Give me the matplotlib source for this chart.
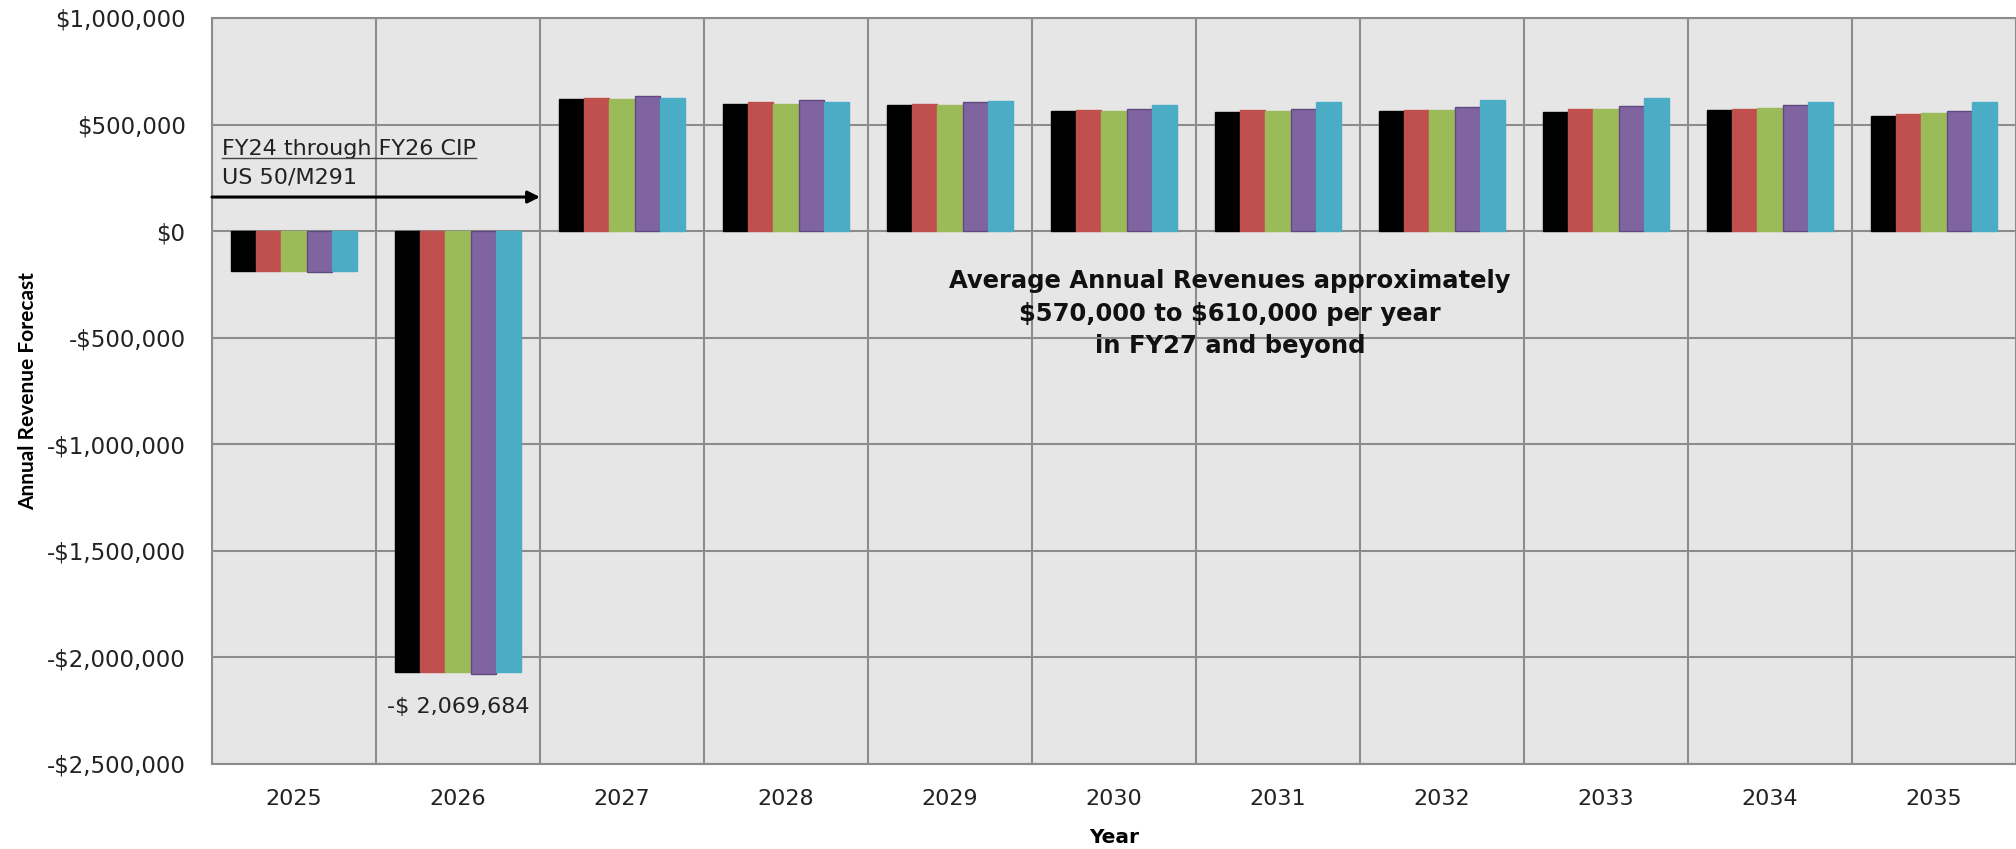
import matplotlib
matplotlib.use("Agg")
import matplotlib.pyplot as plt
import numpy as np
from matplotlib.ticker import FuncFormatter, FixedLocator
from matplotlib.lines import Line2D

plt.rcParams['font.family'] = ['DejaVu Sans']

years = ["2025", "2026", "2027", "2028", "2029", "2030", "2031", "2032", "2033", "2034", "2035"]
series_1 = [-189000, -2069684, 621000, 596000, 590000, 563000, 558000, 563000, 560000, 567000, 539000]
series_2 = [-189000, -2069684, 626000, 605000, 598000, 567000, 567000, 567000, 574000, 574000, 549000]
series_3 = [-189000, -2069684, 621000, 596000, 590000, 563000, 566000, 567000, 574000, 577000, 553000]
series_4 = [-193000, -2078000, 634000, 615000, 608000, 575000, 575000, 581000, 586000, 594000, 566000]
series_5 = [-189000, -2069684, 626000, 606000, 612000, 590000, 605000, 615000, 624000, 605000, 608000]
series = [series_1, series_2, series_3, series_4, series_5]
colors = ["#000000", "#c0504d", "#9bbb59", "#8064a2", "#4bacc6"]
edges = ["#000000", "#c0504d", "#9bbb59", "#5e4a7e", "#4bacc6"]

y_ticks = [-2500000, -2000000, -1500000, -1000000, -500000, 0, 500000, 1000000]
callout_label = "-$ 2,069,684"
callout_value = -2069684
cip_line1 = "FY24 through FY26 CIP"
cip_line2 = "US 50/M291"
avg_text = "Average Annual Revenues approximately\n\\$570,000 to \\$610,000 per year\nin FY27 and beyond"

W, H = 2016, 849
fig = plt.figure(figsize=(W / 100, H / 100), dpi=100)
ax = fig.add_axes([212 / W, 1 - 764 / H, 1 - 212 / W, (764 - 18) / H])
ax.set_facecolor("#e6e6e6")

x = np.arange(len(years))
bw = 0.153
for i, (vals, c, e) in enumerate(zip(series, colors, edges)):
    ax.bar(x + (i - 2) * bw, vals, width=bw, color=c, edgecolor=e, linewidth=1.0, zorder=3)

ax.set_xlim(-0.5, len(years) - 0.5)
ax.set_ylim(y_ticks[0], y_ticks[-1])
ax.yaxis.set_major_locator(FixedLocator(y_ticks))

def money(v, pos=None):
    v = int(round(v))
    if v < 0:
        return "-${:,}".format(-v)
    return "${:,}".format(v)

ax.yaxis.set_major_formatter(FuncFormatter(money))
ax.set_xticks(x)
ax.set_xticklabels(years)
ax.set_xticks(np.arange(-0.5, len(years), 1.0), minor=True)

grid_c = "#8c8c8c"
ax.grid(axis="y", which="major", color=grid_c, linewidth=1.5, zorder=1)
ax.grid(axis="x", which="minor", color=grid_c, linewidth=1.5, zorder=1)
ax.grid(axis="x", which="major", visible=False)
ax.set_axisbelow(True)

ax.tick_params(axis="both", which="both", length=0)
ax.tick_params(axis="y", labelsize=16.5, pad=19, colors="#222222")
ax.tick_params(axis="x", labelsize=16, pad=18, colors="#222222")

for s in ["left", "bottom", "top"]:
    ax.spines[s].set_color(grid_c)
    ax.spines[s].set_linewidth(1.5)
ax.spines["right"].set_visible(False)

# y label
fig.text(28 / W, 1 - 391 / H, "Annual Revenue Forecast", rotation=90, ha="center", va="center",
         fontsize=15, fontweight="bold", family=["Lato", "DejaVu Sans"])
# x label
ax.set_xlabel("Year", fontsize=14.5, fontweight="bold", labelpad=14)

# arrow
ax.annotate("", xy=(1.5, 160000), xytext=(-0.5, 160000),
            arrowprops=dict(arrowstyle="-|>", color="black", lw=2.2, mutation_scale=18,
                            shrinkA=0, shrinkB=0), zorder=5)

t1 = ax.text(-0.44, 357000, cip_line1, fontsize=16, ha="left", va="baseline", color="#222222", zorder=6)
t2 = ax.text(-0.44, 222000, cip_line2, fontsize=16, ha="left", va="baseline", color="#222222", zorder=6)

ax.text(5.707, -387000, avg_text, fontsize=17.5, fontweight="bold", ha="center", va="center",
        multialignment="center", linespacing=1.45, color="#111111", zorder=6)

ax.annotate(callout_label, xy=(1, callout_value), xytext=(0, -35), textcoords="offset pixels",
            ha="center", va="center", fontsize=16, color="#222222", zorder=6)

# underline for first CIP line
fig.canvas.draw()
bb = t1.get_window_extent(renderer=fig.canvas.get_renderer())
disp = ax.transData.transform((0, 357000))
uy = disp[1] - 3
fig.add_artist(Line2D([bb.x0 / W, bb.x1 / W], [uy / H, uy / H], color="#444444", linewidth=1.0,
                      transform=fig.transFigure))

fig.savefig("out.png", dpi=100)
